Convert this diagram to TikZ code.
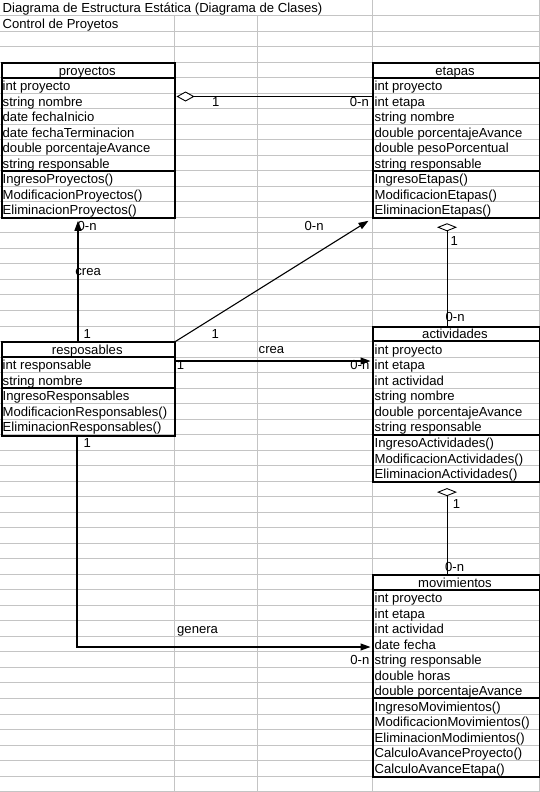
\documentclass[tikz,border=0pt]{standalone}
\usepackage{fontspec}
\setmainfont{Liberation Sans}
\usetikzlibrary{arrows.meta,calc}
\definecolor{sheetGrid}{HTML}{C4C4C4}
\newcommand{\cellfont}{\fontsize{13.1}{15}\selectfont}
\tikzset{
  gridLine/.style={draw=sheetGrid, line width=0.8pt},
  classBox/.style={draw=black, line width=2pt, rectangle, inner sep=0pt,
                   anchor=north west},
  boxRule/.style={black, line width=2pt},
  cellText/.style={anchor=base west, inner sep=0pt, font=\cellfont},
  classHead/.style={anchor=base, inner sep=0pt, font=\cellfont},
  linkLabel/.style={inner sep=0pt, font=\cellfont},
  aggrSide/.style={{Diamond[fill=white,length=18pt,width=10pt]}-, line width=0.9pt},
  aggrDown/.style={{Diamond[fill=white,length=8pt,width=20pt]}-, line width=0.9pt},
  assocArrow/.style={-{Triangle[length=10pt,width=7pt]}, line width=1.1pt}
}

\begin{document}
\begin{tikzpicture}[x=1pt,y=-1pt,
  declare function={rb(\r)=(\r+1)*15.52-2.6;}]
  \def\rowh{15.52}
  \useasboundingbox (0,0) rectangle (540,792);

  % hoja de calculo
  \foreach \r in {1,...,51}
    \draw[gridLine] (0,\r*\rowh) -- (540,\r*\rowh);
  \foreach \x in {174,257}
    \draw[gridLine] (\x,\rowh) -- (\x,792);
  \draw[gridLine] (372,0) -- (372,792);
  \draw[gridLine] (539.6,0) -- (539.6,792);

  \node[cellText] (titulo) at (2.5,{rb(0)})
    {Diagrama de Estructura Estática (Diagrama de Clases)};
  \node[cellText] (subtitulo) at (2.5,{rb(1)}) {Control de Proyetos};

  % clases
  \node[classBox, minimum width=172.5, minimum height=155.2] (proyectos) at (1,62.08) {};
  \node[classBox, minimum width=167, minimum height=155.2] (etapas) at (371.5,62.08) {};
  \node[classBox, minimum width=172.5, minimum height=93.12] (resp) at (1,341.44) {};
  \node[classBox, minimum width=167, minimum height=155.2] (activ) at (371.5,325.92) {};
  \node[classBox, minimum width=167, minimum height=201.76] (movim) at (371.5,574.24) {};

  \draw[boxRule] (1,5*\rowh) -- (173.5,5*\rowh);
  \draw[boxRule] (1,11*\rowh) -- (173.5,11*\rowh);
  \draw[boxRule] (371.5,5*\rowh) -- (538.5,5*\rowh);
  \draw[boxRule] (371.5,11*\rowh) -- (538.5,11*\rowh);
  \draw[boxRule] (1,23*\rowh) -- (173.5,23*\rowh);
  \draw[boxRule] (1,25*\rowh) -- (173.5,25*\rowh);
  \draw[boxRule] (371.5,22*\rowh) -- (538.5,22*\rowh);
  \draw[boxRule] (371.5,28*\rowh) -- (538.5,28*\rowh);
  \draw[boxRule] (371.5,38*\rowh) -- (538.5,38*\rowh);
  \draw[boxRule] (371.5,45*\rowh) -- (538.5,45*\rowh);

  \node[classHead] (proyectosHead) at (87.25,{rb(4)}) {proyectos};
  \foreach \campo [count=\i from 5] in {int proyecto, string nombre,
      date fechaInicio, date fechaTerminacion, double porcentajeAvance,
      string responsable, IngresoProyectos(), ModificacionProyectos(),
      EliminacionProyectos()}
    \node[cellText] (proyectos-\i) at (2.5,{rb(\i)}) {\campo};

  \node[classHead] (etapasHead) at (455,{rb(4)}) {etapas};
  \foreach \campo [count=\i from 5] in {int proyecto, int etapa,
      string nombre, double porcentajeAvance, double pesoPorcentual,
      string responsable, IngresoEtapas(), ModificacionEtapas(),
      EliminacionEtapas()}
    \node[cellText] (etapas-\i) at (374.5,{rb(\i)}) {\campo};

  \node[classHead] (respHead) at (87.25,{rb(22)}) {resposables};
  \foreach \campo [count=\i from 23] in {int responsable, string nombre,
      IngresoResponsables, ModificacionResponsables(),
      EliminacionResponsables()}
    \node[cellText] (resp-\i) at (2.5,{rb(\i)}) {\campo};

  \node[classHead] (activHead) at (455,{rb(21)}) {actividades};
  \foreach \campo [count=\i from 22] in {int proyecto, int etapa,
      int actividad, string nombre, double porcentajeAvance,
      string responsable, IngresoActividades(), ModificacionActividades(),
      EliminacionActividades()}
    \node[cellText] (activ-\i) at (374.5,{rb(\i)}) {\campo};

  \node[classHead] (movimHead) at (455,{rb(37)}) {movimientos};
  \foreach \campo [count=\i from 38] in {int proyecto, int etapa,
      int actividad, date fecha, string responsable, double horas,
      double porcentajeAvance, IngresoMovimientos(),
      ModificacionMovimientos(), EliminacionModimientos(),
      CalculoAvanceProyecto(), CalculoAvanceEtapa()}
    \node[cellText] (movim-\i) at (374.5,{rb(\i)}) {\campo};

  % etiquetas de las relaciones
  \node[linkLabel, anchor=base west] (peUno) at (212,{rb(6)}) {1};
  \node[linkLabel, anchor=base east] (peMuchos) at (369,{rb(6)}) {0-n};
  \node[linkLabel, anchor=base west] (rpMuchos) at (77.5,{rb(14)}) {0-n};
  \node[linkLabel, anchor=base west] (rpCrea) at (75.2,{rb(17)-1}) {crea};
  \node[linkLabel, anchor=base west] (rpUno) at (83.5,{rb(21)}) {1};
  \node[linkLabel, anchor=base west] (reMuchos) at (304.5,{rb(14)}) {0-n};
  \node[linkLabel, anchor=base west] (reUno) at (211.3,{rb(21)}) {1};
  \node[linkLabel, anchor=base west] (raCrea) at (258.5,{rb(22)-1}) {crea};
  \node[linkLabel, anchor=base west] (raUno) at (176.6,{rb(23)}) {1};
  \node[linkLabel, anchor=base east] (raMuchos) at (369.5,{rb(23)}) {0-n};
  \node[linkLabel, anchor=base west] (rmUno) at (83.5,{rb(28)}) {1};
  \node[linkLabel, anchor=base west] (rmGenera) at (177,{rb(40)}) {genera};
  \node[linkLabel, anchor=base east] (rmMuchos) at (369.5,{rb(42)}) {0-n};
  \node[linkLabel, anchor=base west] (eaUno) at (450.3,{rb(15)}) {1};
  \node[linkLabel, anchor=base west] (eaMuchos) at (445.5,321) {0-n};
  \node[linkLabel, anchor=base west] (amUno) at (452.6,508.5) {1};
  \node[linkLabel, anchor=base west] (amMuchos) at (445,571) {0-n};

  % relaciones
  \coordinate (peY) at (0,96.5);
  \coordinate (creaUpX) at (78,0);
  \coordinate (creaY) at (0,361);
  \coordinate (generaX) at (77,0);
  \coordinate (generaY) at (0,647);
  \coordinate (aggrX) at (447,0);

  \draw[aggrSide] ($(proyectos.east |- peY)+(1,0)$) -- (etapas.west |- peY);
  \draw[assocArrow] (resp.north -| creaUpX) -- ($(proyectos.south -| creaUpX)+(0,1.5)$);
  \draw[assocArrow] (resp.north east) -- ($(etapas.south west)+(-3,1.5)$);
  \draw[assocArrow] (resp.east |- creaY) -- ($(activ.west |- creaY)+(-1,0)$);
  \draw[assocArrow] (resp.south -| generaX) |- ($(movim.west |- generaY)+(-1,0)$);
  \draw[aggrDown] ($(etapas.south -| aggrX)+(0,4)$) -- (activ.north -| aggrX);
  \draw[aggrDown] ($(activ.south -| aggrX)+(0,5)$) -- (movim.north -| aggrX);
\end{tikzpicture}
\end{document}
